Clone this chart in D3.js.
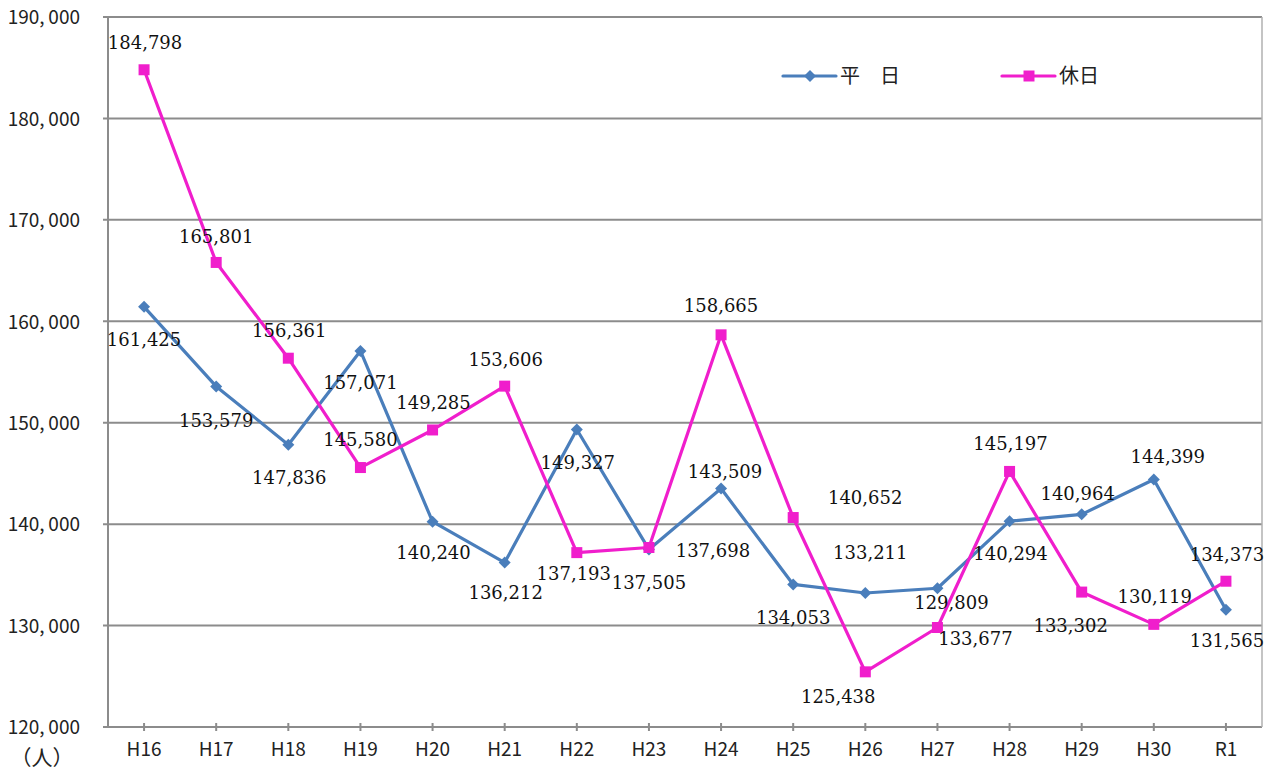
<!DOCTYPE html>
<html>
<head>
<meta charset="utf-8">
<script src="https://cdn.jsdelivr.net/npm/d3@7"></script>
<style>
  body { margin: 0; background: #fff; }
  svg { display: block; }
  .tick-label { font-family: "Noto Sans CJK JP", "Noto Sans", sans-serif; font-size: 19px; fill: #222; }
  .val-label { font-family: "DejaVu Serif", "Liberation Serif", serif; font-size: 18px; fill: #111; }
</style>
</head>
<body>
<div id="chart"></div>
<script>
// fiscal years
const years = ["H16", "H17", "H18", "H19", "H20", "H21", "H22", "H23",
               "H24", "H25", "H26", "H27", "H28", "H29", "H30", "R1"];

// weekday (平日)
const weekday = [161425, 153579, 147836, 157071, 140240, 136212, 149327, 137505,
                 143509, 134053, 133211, 133677, 140294, 140964, 144399, 131565];

// holiday (休日)
const holiday = [184798, 165801, 156361, 145580, 149285, 153606, 137193, 137698,
                 158665, 140652, 125438, 129809, 145197, 133302, 130119, 134373];

const yTicks = [120000, 130000, 140000, 150000, 160000, 170000, 180000, 190000];

// label offsets (px) from each point, as placed in the original
const weekdayLabelOffset = [[0,33],[0,34],[1,33],[0,32],[1,31],[1,30],[1,33],[0,33],
                            [4,-17],[0,33],[5,-40],[38,50],[1,32],[-4,-21],[14,-23],[1,31]];
const holidayLabelOffset = [[1,-27],[0,-26],[1,-28],[0,-28],[1,-27],[1,-27],[-3,21],[64,3],
                            [0,-29],[72,-20],[-27,25],[14,-25],[1,-28],[-11,33],[1,-28],[1,-27]];

const margin = { top: 17, right: 13, bottom: 43, left: 108 },
  width = 1275 - margin.left - margin.right,
  height = 770 - margin.top - margin.bottom;

const svg = d3.select("#chart")
  .append("svg")
  .attr("width", 1275)
  .attr("height", 770)
  .append("g")
  .attr("transform", `translate(${margin.left},${margin.top})`);

const x = d3.scaleBand().domain(years).range([0, width]).padding(0);
const cx = d => x(d) + x.bandwidth() / 2;
const y = d3.scaleLinear().domain([120000, 190000]).range([height, 0]);

const fmtTick = v => d3.format(",")(v).replace(",", ",\u2009");

// gridlines
svg.append("g")
  .selectAll("line")
  .data(yTicks)
  .join("line")
  .attr("x1", -5).attr("x2", width)
  .attr("y1", d => y(d)).attr("y2", d => y(d))
  .attr("stroke", "#8c8c8c")
  .attr("stroke-width", 2);

// y axis line and right border
svg.append("line").attr("x1", 0).attr("x2", 0).attr("y1", 0).attr("y2", height)
  .attr("stroke", "#8c8c8c").attr("stroke-width", 2);
svg.append("line").attr("x1", width).attr("x2", width).attr("y1", 0).attr("y2", height)
  .attr("stroke", "#b0b0b0").attr("stroke-width", 1.5);

// y tick labels
svg.append("g")
  .selectAll("text")
  .data(yTicks)
  .join("text")
  .attr("class", "tick-label")
  .attr("x", -28)
  .attr("y", d => y(d))
  .attr("dy", "0.38em")
  .attr("text-anchor", "end")
  .text(fmtTick);

// x ticks and labels
svg.append("g")
  .selectAll("line")
  .data(years)
  .join("line")
  .attr("x1", d => cx(d)).attr("x2", d => cx(d))
  .attr("y1", height - 4).attr("y2", height + 4)
  .attr("stroke", "#8c8c8c").attr("stroke-width", 2);

svg.append("g")
  .selectAll("text")
  .data(years)
  .join("text")
  .attr("class", "tick-label")
  .attr("x", d => cx(d))
  .attr("y", height + 22)
  .attr("dy", "0.35em")
  .attr("text-anchor", "middle")
  .text(d => d);

svg.append("text")
  .attr("class", "tick-label")
  .attr("x", -66)
  .attr("y", height + 31)
  .attr("dy", "0.35em")
  .attr("text-anchor", "middle")
  .style("font-size", "21px")
  .text("（人）");

const series = [
  { name: "平　日", values: weekday, color: "#4a7ebb", marker: "diamond", offs: weekdayLabelOffset },
  { name: "休日", values: holiday, color: "#f01ecc", marker: "square", offs: holidayLabelOffset }
];

const line = d3.line().x((d, i) => cx(years[i])).y(d => y(d));
const markerPath = m => m === "diamond"
  ? d3.symbol().type(d3.symbolSquare).size(72)()
  : d3.symbol().type(d3.symbolSquare).size(121)();

series.forEach(s => {
  svg.append("path")
    .datum(s.values)
    .attr("fill", "none")
    .attr("stroke", s.color)
    .attr("stroke-width", 3.2)
    .attr("stroke-linejoin", "round")
    .attr("d", line);
});

series.forEach(s => {
  svg.append("g")
    .selectAll("path")
    .data(s.values)
    .join("path")
    .attr("transform", (d, i) => `translate(${cx(years[i])},${y(d)})${s.marker === "diamond" ? " rotate(45)" : ""}`)
    .attr("d", markerPath(s.marker))
    .attr("fill", s.color);
});

// value labels
series.forEach(s => {
  svg.append("g")
    .selectAll("text")
    .data(s.values)
    .join("text")
    .attr("class", "val-label")
    .attr("x", (d, i) => cx(years[i]) + s.offs[i][0])
    .attr("y", (d, i) => y(d) + s.offs[i][1])
    .attr("dy", "0.36em")
    .attr("text-anchor", "middle")
    .text(d => d3.format(",")(d));
});

// legend
const legend = svg.append("g").attr("transform", "translate(675,59)");
const legendX = [0, 219];
series.forEach((s, i) => {
  const g = legend.append("g").attr("transform", `translate(${legendX[i]},0)`);
  g.append("line").attr("x1", 0).attr("x2", 53).attr("y1", 0).attr("y2", 0)
    .attr("stroke", s.color).attr("stroke-width", 3.2).attr("stroke-linecap", "round");
  g.append("path")
    .attr("transform", `translate(27,0)${s.marker === "diamond" ? " rotate(45)" : ""}`)
    .attr("d", markerPath(s.marker))
    .attr("fill", s.color);
  g.append("text")
    .attr("class", "tick-label")
    .attr("x", 57)
    .attr("y", 0)
    .attr("dy", "0.35em")
    .style("font-size", "20px")
    .text(s.name);
});
</script>
</body>
</html>
